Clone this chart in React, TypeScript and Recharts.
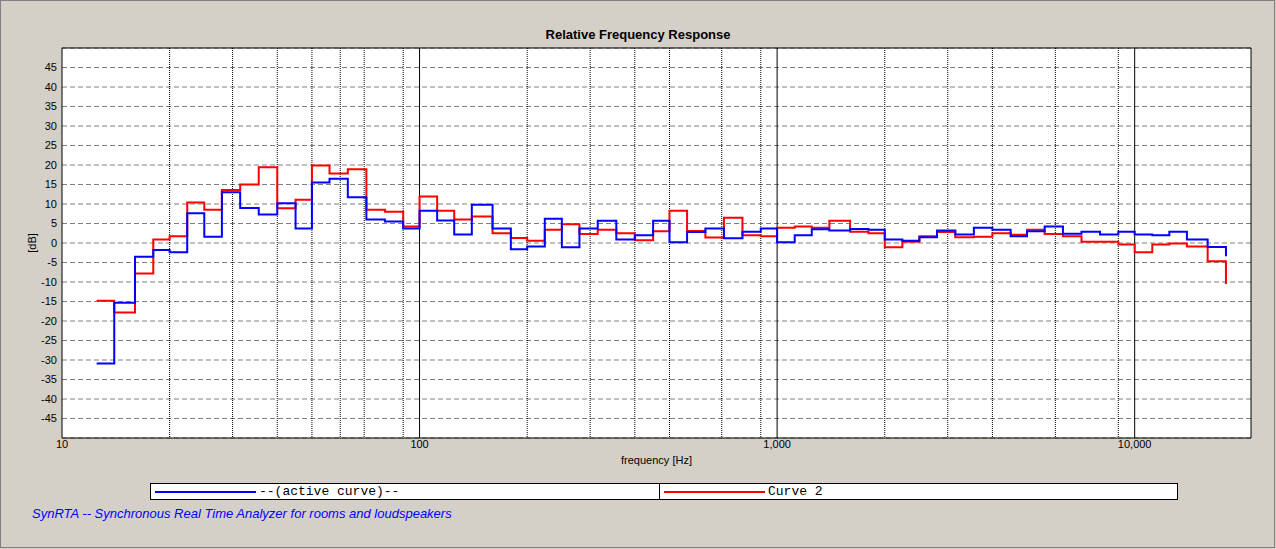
import React from "react";
import {
  LineChart,
  Line,
  XAxis,
  YAxis,
  CartesianGrid,
  ReferenceArea,
} from "recharts";

// 1/6-octave band starts (Hz); the last entry closes the final band
const FREQS = [
  12.5, 14, 16, 18, 20, 22.4, 25, 28, 31.5, 35.5, 40, 45, 50, 56, 63, 71, 80,
  90, 100, 112, 125, 140, 160, 180, 200, 224, 250, 280, 315, 355, 400, 450,
  500, 560, 630, 710, 800, 900, 1000, 1120, 1250, 1400, 1600, 1800, 2000,
  2240, 2500, 2800, 3150, 3550, 4000, 4500, 5000, 5600, 6300, 7100, 8000,
  9000, 10000, 11200, 12500, 14000, 16000, 18000,
];

// active curve, dB
const ACTIVE = [
  -30.9, -15.3, -3.5, -1.8, -2.4, 7.6, 1.6, 13.0, 9.0, 7.3, 10.2, 3.7, 15.5,
  16.5, 11.7, 6.0, 5.5, 3.7, 8.3, 5.8, 2.2, 9.8, 3.7, -1.6, -0.9, 6.2, -1.1,
  3.7, 5.7, 0.9, 2.0, 5.7, 0.2, 2.8, 3.7, 1.2, 2.9, 3.7, 0.2, 2.0, 3.5, 3.2,
  3.6, 3.4, 0.9, 0.6, 1.5, 3.2, 2.2, 3.9, 3.4, 1.7, 3.0, 4.2, 2.4, 2.9, 2.2,
  2.9, 2.2, 2.0, 2.9, 0.9, -1.0, -3.4,
];

// curve 2, dB
const CURVE2 = [
  -14.8, -17.8, -7.8, 0.9, 1.7, 10.4, 8.5, 13.6, 15.0, 19.4, 8.9, 11.1, 19.9,
  17.8, 18.9, 8.5, 8.0, 4.2, 11.9, 8.3, 6.0, 6.8, 2.5, 1.3, 0.6, 3.4, 4.8,
  2.3, 3.4, 2.5, 0.7, 3.0, 8.3, 3.1, 1.4, 6.5, 2.0, 1.7, 3.9, 4.2, 3.9, 5.7,
  2.9, 2.5, -1.1, 0.3, 1.7, 2.8, 1.5, 1.6, 2.5, 2.1, 3.4, 2.3, 1.7, 0.3, 0.3,
  -0.4, -2.4, -0.4, -0.1, -0.9, -4.7, -10.5,
];

const X_TICKS = [10, 100, 1000, 10000];
const X_MINOR = [
  20, 30, 40, 50, 60, 70, 80, 90, 200, 300, 400, 500, 600, 700, 800, 900,
  2000, 3000, 4000, 5000, 6000, 7000, 8000, 9000,
];
const Y_TICKS = [-45, -40, -35, -30, -25, -20, -15, -10, -5, 0, 5, 10, 15, 20, 25, 30, 35, 40, 45];
const X_DOMAIN = [10, 21150];
const Y_DOMAIN = [-50, 50];

const SERIES = [
  { key: "active", name: "--(active curve)--", color: "#0000FF" },
  { key: "curve2", name: "Curve 2", color: "#FF0000" },
];

const data = FREQS.map((f, i) => ({ f, active: ACTIVE[i], curve2: CURVE2[i] }));

const W = 1276;
const H = 549;
const BG = "#D4D0C8";
const SANS = "'Liberation Sans', Arial, sans-serif";
const MONO = "'Liberation Mono', 'Courier New', monospace";

const tick = { fill: "#000", fontSize: 11, fontFamily: SANS };

// legend drawn as the old two-cell box under the plot
function LegendBox() {
  return (
    <div
      style={{
        position: "absolute",
        left: 150,
        top: 483,
        width: 1026,
        height: 15,
        background: "#fff",
        border: "1px solid #000",
        display: "flex",
      }}
    >
      {SERIES.map((s, i) => (
        <div
          key={s.key}
          style={{
            boxSizing: "border-box",
            width: i === 0 ? 508 : undefined,
            flex: i === 0 ? "none" : 1,
            display: "flex",
            alignItems: "center",
            borderLeft: i > 0 ? "1px solid #000" : "none",
            paddingLeft: 4,
          }}
        >
          <span style={{ display: "inline-block", width: 101, height: 2, background: s.color }} />
          <span
            style={{
              fontFamily: MONO,
              fontSize: 13,
              lineHeight: "15px",
              marginLeft: 3,
              color: "#000",
              whiteSpace: "pre",
            }}
          >
            {s.name}
          </span>
        </div>
      ))}
    </div>
  );
}

export default function App() {
  return (
    <div style={{ position: "relative", width: W, height: H, background: BG, overflow: "hidden" }}>
      <style>{`body{margin:0}`}</style>
      <div
        style={{
          position: "absolute",
          left: 0,
          top: 0,
          width: W - 3,
          height: H - 3,
          border: "1px solid #808080",
        }}
      />
      <div
        style={{
          position: "absolute",
          left: 0,
          width: W,
          top: 27,
          textAlign: "center",
          fontFamily: SANS,
          fontWeight: "bold",
          fontSize: 13,
          color: "#000",
        }}
      >
        Relative Frequency Response
      </div>

      <div style={{ position: "absolute", left: 0, top: 0 }}>
        <LineChart
          width={W}
          height={H}
          data={data}
          margin={{ top: 48, right: 25, bottom: 81, left: 0 }}
        >
          <CartesianGrid
            vertical={false}
            fill="#fff"
            stroke="#808080"
            strokeDasharray="5 3"
          />
          <CartesianGrid
            horizontal={false}
            verticalValues={X_MINOR}
            stroke="#000"
            strokeDasharray="1 1"
          />
          <CartesianGrid
            horizontal={false}
            verticalValues={X_TICKS.slice(1)}
            stroke="#000"
          />
          <XAxis
            dataKey="f"
            type="number"
            scale="log"
            domain={X_DOMAIN}
            allowDataOverflow
            ticks={X_TICKS}
            tickFormatter={(v: number) => v.toLocaleString("en-US")}
            tick={tick}
            tickLine={false}
            tickSize={0}
            tickMargin={2}
            axisLine={false}
            height={30}
            label={{
              value: "frequency [Hz]",
              position: "insideBottom",
              offset: 4,
              fill: "#000",
              fontSize: 11,
              fontFamily: SANS,
            }}
          />
          <YAxis
            type="number"
            domain={Y_DOMAIN}
            ticks={Y_TICKS}
            interval={0}
            tick={tick}
            tickLine={false}
            tickSize={0}
            tickMargin={5}
            axisLine={false}
            width={62}
            label={{
              value: "[dB]",
              angle: -90,
              position: "insideLeft",
              offset: 32,
              fill: "#000",
              fontSize: 11,
              fontFamily: SANS,
              style: { textAnchor: "middle" },
            }}
          />
          <Line
            dataKey="curve2"
            type="stepAfter"
            stroke="#FF0000"
            strokeWidth={2}
            dot={false}
            activeDot={false}
            isAnimationActive={false}
          />
          <Line
            dataKey="active"
            type="stepAfter"
            stroke="#0000FF"
            strokeWidth={2}
            dot={false}
            activeDot={false}
            isAnimationActive={false}
          />
          <ReferenceArea
            x1={X_DOMAIN[0]}
            x2={X_DOMAIN[1]}
            y1={Y_DOMAIN[0]}
            y2={Y_DOMAIN[1]}
            fill="none"
            fillOpacity={0}
            stroke="#000"
            strokeWidth={1}
            ifOverflow="visible"
          />
        </LineChart>
      </div>

      <LegendBox />

      <div
        style={{
          position: "absolute",
          left: 32,
          top: 506,
          fontFamily: SANS,
          fontStyle: "italic",
          fontSize: 13,
          color: "#0000FF",
        }}
      >
        SynRTA -- Synchronous Real Time Analyzer for rooms and loudspeakers
      </div>
    </div>
  );
}
